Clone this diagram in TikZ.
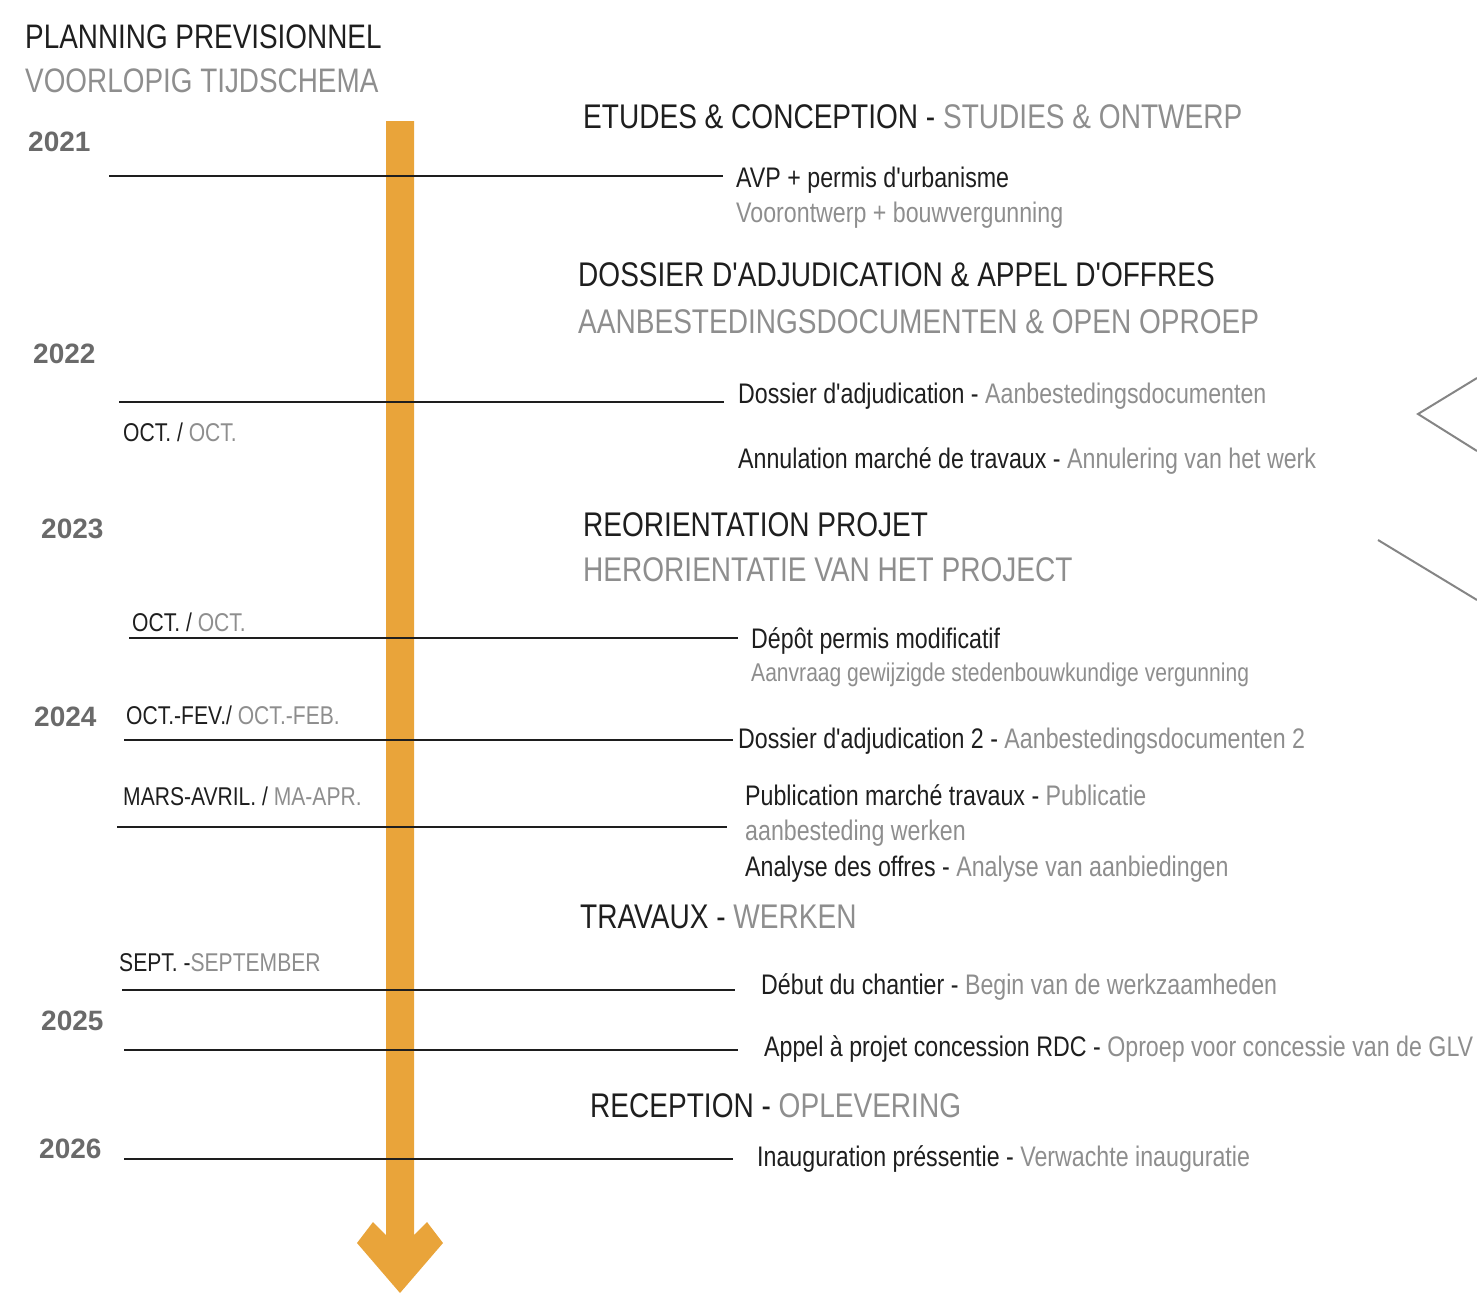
\documentclass[tikz,border=0pt]{standalone}
\usepackage{fontspec}
\setmainfont{Liberation Sans}[FakeStretch=0.82, Ligatures=TeXOff]
\newfontfamily\yearfont{Liberation Sans}
\definecolor{blk}{HTML}{1E1E1E}
\definecolor{gry}{HTML}{8E8E8E}
\definecolor{yrg}{HTML}{6A6A6A}
\definecolor{org}{HTML}{E9A43A}
\definecolor{lng}{HTML}{858585}
\tikzset{
  txt/.style={anchor=base west, inner sep=0pt, text=blk},
  ttl/.style={txt, font=\fontsize{34}{38}\selectfont},
  hdr/.style={txt, font=\fontsize{34.2}{40}\selectfont},
  itm/.style={txt, font=\fontsize{28.3}{32}\selectfont},
  sml/.style={txt, font=\fontsize{25.7}{30}\selectfont},
  mon/.style={txt, font=\fontsize{25.7}{30}\selectfont},
  yr/.style={txt, text=yrg, font=\yearfont\bfseries\fontsize{28}{32}\selectfont},
  tick/.style={line width=2.8pt, draw=blk},
  side/.style={line width=2pt, draw=lng}
}
\begin{document}
\begin{tikzpicture}[x=1pt,y=-1pt]
\useasboundingbox (0,0) rectangle (1477,1293);
% orange timeline arrow
\fill[org] (386,121) -- (386,1235) -- (373,1222) -- (357,1243) -- (400,1293)
  -- (443,1243) -- (427,1222) -- (414,1235) -- (414,121) -- cycle;
% titles
\node[ttl] (t1) at (25,48) {PLANNING PREVISIONNEL};
\node[ttl,text=gry] (t2) at (25,92) {VOORLOPIG TIJDSCHEMA};
% years
\node[yr] (y21) at (28,151) {2021};
\node[yr] (y22) at (33,363) {2022};
\node[yr] (y23) at (41,538) {2023};
\node[yr] (y24) at (34,726) {2024};
\node[yr] (y25) at (41,1030) {2025};
\node[yr] (y26) at (39,1158) {2026};
% months
\node[mon] (m1) at (123,441) {OCT. / {\color{gry}OCT.}};
\node[mon] (m2) at (132,631) {OCT. / {\color{gry}OCT.}};
\node[mon] (m3) at (126,724) {OCT.-FEV./ {\color{gry}OCT.-FEB.}};
\node[mon] (m4) at (123,805) {MARS-AVRIL. / {\color{gry}MA-APR.}};
\node[mon] (m5) at (119,971) {SEPT. -{\color{gry}SEPTEMBER}};
% tick line coordinates
\coordinate (a1) at (109,176);  \coordinate (b1) at (723,176);
\coordinate (a2) at (119,402);  \coordinate (b2) at (724,402);
\coordinate (a3) at (129,638);  \coordinate (b3) at (738,638);
\coordinate (a4) at (124,740);  \coordinate (b4) at (733,740);
\coordinate (a5) at (117,827);  \coordinate (b5) at (727,827);
\coordinate (a6) at (122,990);  \coordinate (b6) at (735,990);
\coordinate (a7) at (124,1050); \coordinate (b7) at (738,1050);
\coordinate (a8) at (124,1159); \coordinate (b8) at (733,1159);
\foreach \i in {1,...,8} {\draw[tick] (a\i) -- (b\i);}
% section headers
\node[hdr] (h1) at (583,128) {ETUDES \& CONCEPTION - {\color{gry}STUDIES \& ONTWERP}};
\node[hdr] (h2) at (578,286) {DOSSIER D'ADJUDICATION \& APPEL D'OFFRES};
\node[hdr,text=gry] (h2b) at (578,333) {AANBESTEDINGSDOCUMENTEN \& OPEN OPROEP};
\node[hdr] (h3) at (583,536) {REORIENTATION PROJET};
\node[hdr,text=gry] (h3b) at (583,581) {HERORIENTATIE VAN HET PROJECT};
\node[hdr] (h4) at (580,928) {TRAVAUX - {\color{gry}WERKEN}};
\node[hdr] (h5) at (590,1117) {RECEPTION - {\color{gry}OPLEVERING}};
% items
\node[itm] (i1) at (736,187) {AVP + permis d'urbanisme};
\node[itm,text=gry] (i1b) at (736,222) {Voorontwerp + bouwvergunning};
\node[itm] (i2) at (738,403) {Dossier d'adjudication - {\color{gry}Aanbestedingsdocumenten}};
\node[itm] (i3) at (738,468) {Annulation marché de travaux - {\color{gry}Annulering van het werk}};
\node[itm] (i4) at (751,648) {Dépôt permis modificatif};
\node[sml,text=gry] (i4b) at (751,681) {Aanvraag gewijzigde stedenbouwkundige vergunning};
\node[itm] (i5) at (738,748) {Dossier d'adjudication 2 - {\color{gry}Aanbestedingsdocumenten 2}};
\node[itm] (i6) at (745,805) {Publication marché travaux - {\color{gry}Publicatie}};
\node[itm,text=gry] (i6b) at (745,840) {aanbesteding werken};
\node[itm] (i7) at (745,876) {Analyse des offres - {\color{gry}Analyse van aanbiedingen}};
\node[itm] (i8) at (761,994) {Début du chantier - {\color{gry}Begin van de werkzaamheden}};
\node[itm] (i9) at (764,1056) {Appel à projet concession RDC - {\color{gry}Oproep voor concessie van de GLV}};
\node[itm] (i10) at (757,1166) {Inauguration préssentie - {\color{gry}Verwachte inauguratie}};
% right edge gray strokes
\coordinate (s1) at (1477,378); \coordinate (s2) at (1418,414); \coordinate (s3) at (1477,451);
\coordinate (s4) at (1378,540); \coordinate (s5) at (1477,600);
\draw[side] (s1) -- (s2) -- (s3);
\draw[side] (s4) -- (s5);
\end{tikzpicture}
\end{document}
